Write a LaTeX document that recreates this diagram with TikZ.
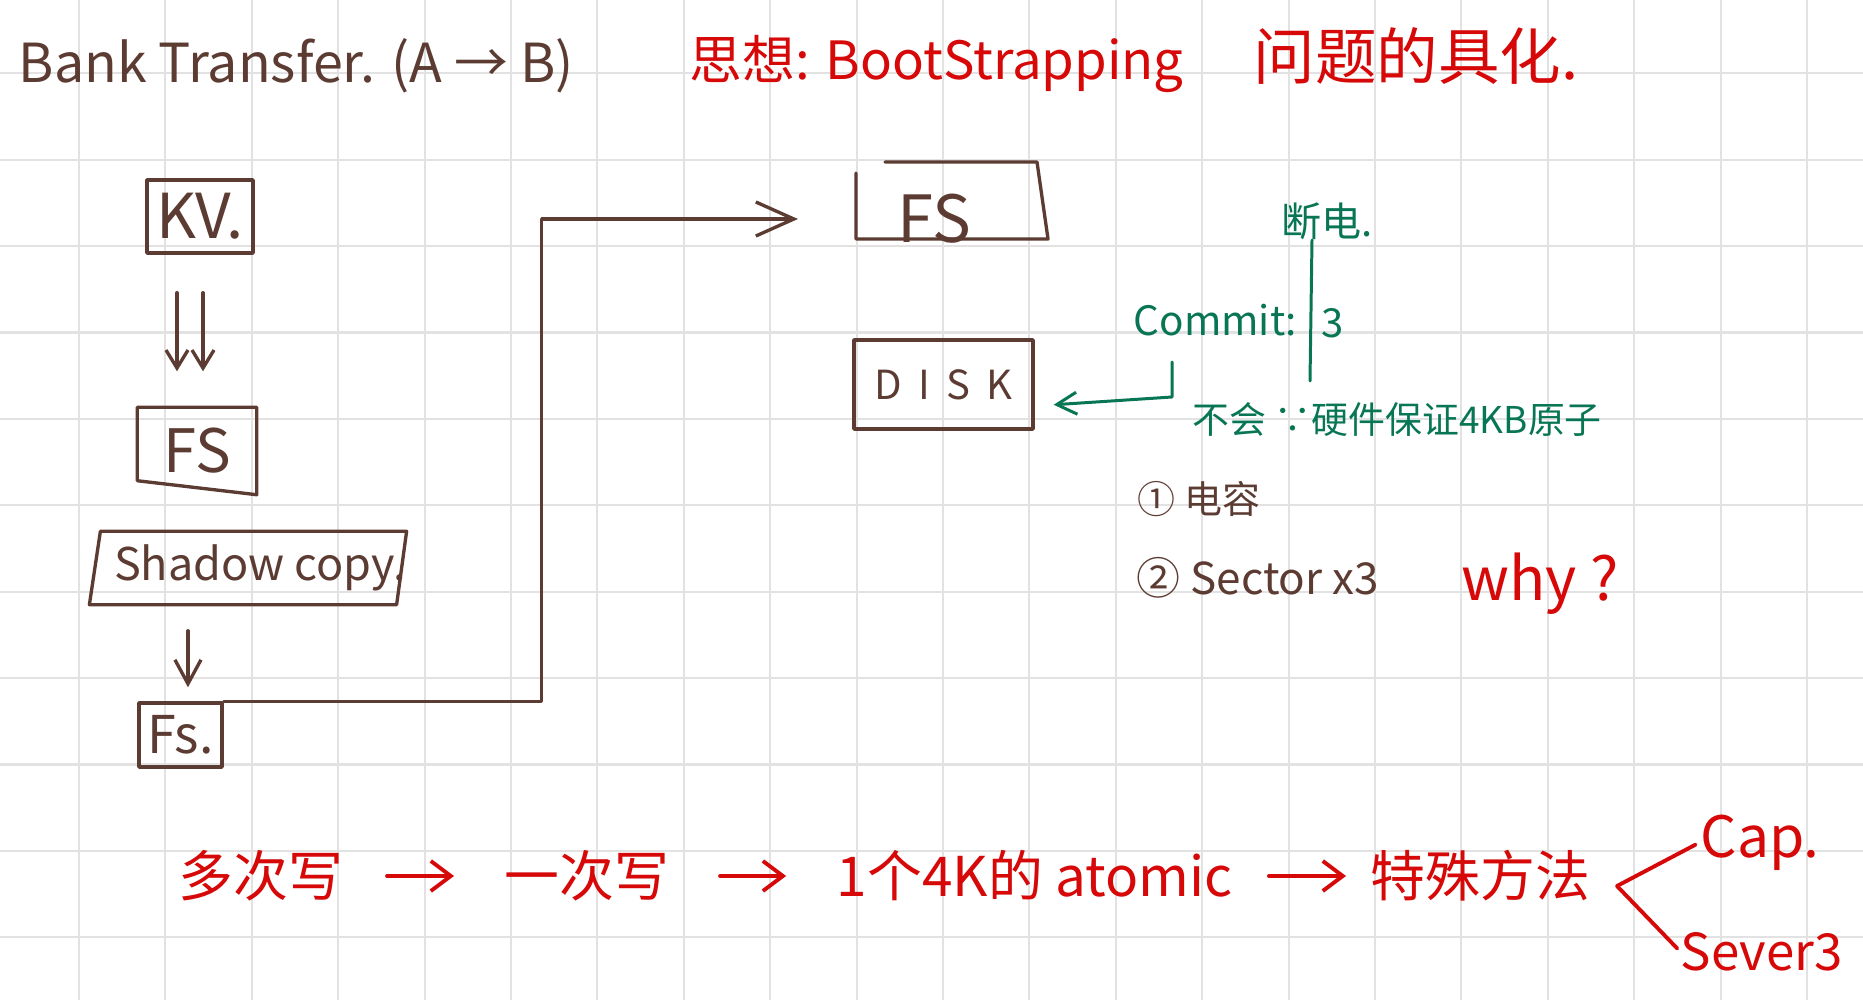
\documentclass[tikz,border=0pt]{standalone}
\usepackage{fontspec}
\setmainfont{Noto Sans CJK SC}
\usepackage{xcolor}
\usepackage{tikz}
\usetikzlibrary{arrows.meta, positioning}

\definecolor{inkbrown}{RGB}{92,60,50}
\definecolor{inkred}{RGB}{214,8,8}
\definecolor{inkgreen}{RGB}{8,118,84}
\definecolor{gridgray}{RGB}{226,226,226}
\newcommand{\fsz}[1]{\fontsize{#1}{#1}\selectfont}

\begin{document}
\begin{tikzpicture}[x=0.01cm, y=-0.01cm, inner sep=0pt, line cap=round, line join=round,
    every node/.style={text=inkbrown},
    gridline/.style={draw=gridgray, line width=0.6pt, line cap=butt},
    ink/.style={draw=inkbrown, line width=0.95pt},
    note/.style={text=inkred},
    gnote/.style={text=inkgreen},
    arrS/.style={ink, -{Straight Barb[length=0.18cm, width=0.22cm]}},
    arrM/.style={ink, -{Straight Barb[length=0.24cm, width=0.26cm]}},
    arrL/.style={ink, -{Straight Barb[length=0.38cm, width=0.34cm]}},
    garr/.style={draw=inkgreen, line width=0.85pt, -{Straight Barb[length=0.2cm, width=0.22cm]}},
    rarr/.style={draw=inkred, line width=1.1pt, -{Straight Barb[length=0.2cm, width=0.3cm]}},
    rline/.style={draw=inkred, line width=1.1pt}]
    % paper
    \fill[white] (0,0) rectangle (1863,1000);
    \useasboundingbox (0,0) rectangle (1863,1000);
    \foreach \k in {0,...,20} \draw[gridline] ({79+86.4*\k},0) -- ++(0,1000);
    \foreach \k in {0,...,10} \draw[gridline] (0,{73.3+86.4*\k}) -- ++(1863,0);

    \node[anchor=base west, font=\fsz{15.3}] (title) at (18,82) {Bank Transfer. (A → B)};
    \node[note, anchor=base west, font=\fsz{15}] (idea) at (689,80) {思想: BootStrapping};
    \node[note, anchor=base west, font=\fsz{17.5}] (idea2) at (1253,80) {问题的具化.};

    % left column
    \node[ink, minimum width=1.06cm, minimum height=0.73cm, font=\fsz{17.6}] (kv) at (200,216.5) {KV.};
    \node[minimum width=1.18cm, minimum height=0.86cm, font=\fsz{17}] (fsa) at (197,451) {FS};
    \draw[ink] (fsa.north west) -- (fsa.north east) -- (fsa.south east) -- ([yshift=0.14cm]fsa.south west) -- cycle;
    \node[minimum width=2.96cm, minimum height=0.72cm, font=\fsz{12.8}] (shadow) at (248,568) {\hspace*{0.24cm}Shadow copy.};
    \draw[ink] ([xshift=0.11cm]shadow.north west) -- (shadow.north east) -- ([xshift=-0.1cm]shadow.south east) -- (shadow.south west) -- cycle;
    \node[ink, minimum width=0.83cm, minimum height=0.64cm, font=\fsz{14.8}] (fsb) at (180.5,735) {Fs.};
    \draw[arrS, shorten <=0.38cm, shorten >=0.36cm] ([xshift=-0.23cm]kv.south) -- ([xshift=-0.23cm]kv.south |- fsa.north);
    \draw[arrS, shorten <=0.38cm, shorten >=0.36cm] ([xshift=0.03cm]kv.south) -- ([xshift=0.03cm]kv.south |- fsa.north);
    \draw[arrM, shorten <=0.26cm, shorten >=0.14cm] ([xshift=-0.6cm]shadow.south) -- ([xshift=-0.6cm]shadow.south |- fsb.north);

    % right side
    \node[anchor=west, font=\fsz{18.5}] (fstop) at (897,219) {FS};
    \draw[ink] (856,173) -- (856,239) -- (1048,239) -- (1037,162) -- (885,162);
    \draw[arrL, shorten >=0.99cm] (fsb.north east) -- ++(318,0) |- (fstop.west);
    \node[ink, minimum width=1.79cm, minimum height=0.89cm, font=\fsz{11.4}] (disk) at (943.5,384.5) {\addfontfeature{LetterSpace=40}DISK};

    % power cut
    \node[gnote, font=\fsz{11.4}] (cut) at (1327,221) {断电.};
    \draw[draw=inkgreen, line width=0.85pt] (1312,240) -- (1310,381);
    \node[gnote, anchor=base west, font=\fsz{11.5}] (commit) at (1133,335) {Commit:};
    \node[gnote, anchor=base west, font=\fsz{11.4}] (three) at (1321,337) {3};
    \node[gnote, anchor=west, font=\fsz{10.5}] (hw) at (1192,420) {不会 ∵硬件保证4KB原子};
    \coordinate (tick) at (1172,362);
    \draw[garr, shorten >=0.19cm] (tick) -- ++(0,35) -- ([yshift=-0.215cm]disk.east);
    \node[anchor=west, font=\fsz{10.8}] (opt1) at (1137,499) {① 电容};
    \node[anchor=west, font=\fsz{12.5}] (opt2) at (1136,578) {② Sector x3};
    \node[note, anchor=base west, font=\fsz{17}] (why) at (1461,600) {why ?};

    % bottom chain
    \node[note, anchor=west, font=\fsz{15.6}] (w1) at (178,876) {多次写};
    \node[note, right=1.6cm of w1, font=\fsz{15.6}] (w2) {一次写};
    \node[note, right=1.66cm of w2, font=\fsz{15.6}] (w3) {1个4K的 atomic};
    \node[note, right=1.37cm of w3, font=\fsz{15.6}] (w4) {特殊方法};
    \draw[rarr, shorten <=0.43cm, shorten >=0.5cm] (w1) -- (w2);
    \draw[rarr, shorten <=0.5cm, shorten >=0.5cm] (w2) -- (w3);
    \draw[rarr, shorten <=0.36cm, shorten >=0.24cm] (w3) -- (w4);
    \node[note, anchor=base west, font=\fsz{16.2}] (cap) at (1700,857) {Cap.};
    \node[note, anchor=base west, font=\fsz{14.5}] (sever) at (1680,970) {Sever3};
    \coordinate (fork) at (1617,886);
    \draw[rline, shorten >=0.05cm] (fork) -- (cap.west);
    \draw[rline, shorten >=0.04cm] (fork) -- (sever.west);
\end{tikzpicture}
\end{document}
